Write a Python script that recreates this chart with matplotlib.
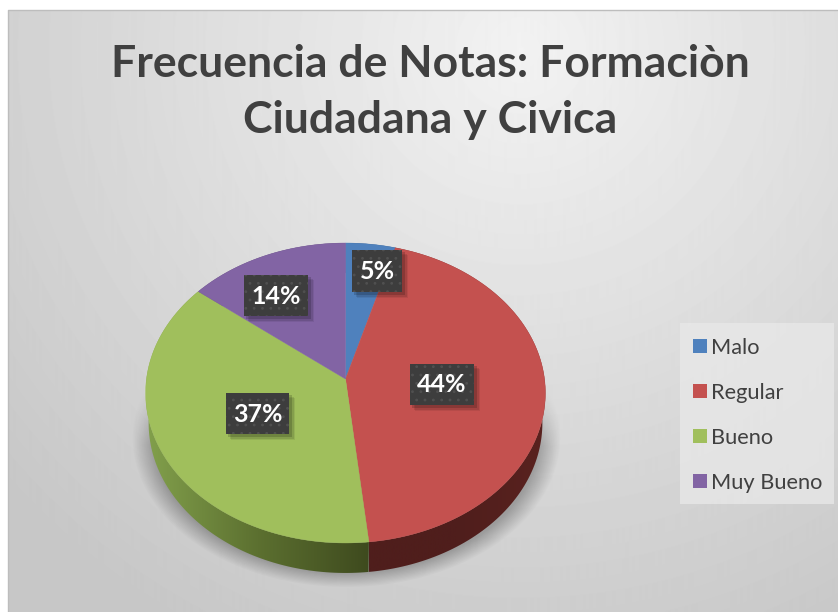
import matplotlib
matplotlib.use("Agg")
import matplotlib.pyplot as plt
import numpy as np
from matplotlib.colors import LinearSegmentedColormap
from matplotlib.patches import Polygon, Rectangle

plt.rcParams['font.family'] = ['Lato', 'DejaVu Sans']
plt.rcParams['hatch.linewidth'] = 0.8

# Data
categories = ["Malo", "Regular", "Bueno", "Muy Bueno"]
values = [4.4, 43.9, 37.4, 14.3]
value_labels = ["5%", "44%", "37%", "14%"]
title_text = "Frecuencia de Notas: Formaciòn\nCiudadana y Civica"

# Styles
colors = ["#4f81bd", "#c4514f", "#a0bf5c", "#8264a4"]
side_colors = [["#2f4d72", "#2f4d72"], ["#4f1e1c", "#4f1e1c", "#5a221f"],
               ["#82a04c", "#5c7030", "#3e4a1e"], ["#4d3c62", "#4d3c62"]]
label_boxes = [(352, 250, 50, 42), (410, 364, 64, 41), (226, 393, 63, 41), (244, 275, 64, 41)]

W, H = 838, 612
CX, APEX_Y = 345.5, 379.0
PERSP = -0.0933
A = 113.3
D = 199.0
DEPTH = 30.0


# maps an angle (clockwise from the top) on to the tilted pie face
def face(theta, scale=1.0, dy=0.0):
    t = -np.cos(theta)
    w = PERSP * t + 1
    return CX + scale * D * np.sin(theta) / w, (A * t + APEX_Y) / w + dy


fig = plt.figure(figsize=(W / 100, H / 100), dpi=100)
ax = fig.add_axes([0, 0, 1, 1])

# background gradient
xx, yy = np.meshgrid(np.arange(W), np.arange(H))
dist = np.sqrt(((xx - 520) / 640.0) ** 2 + ((yy - 50) / 620.0) ** 2)
bg = np.clip(0.95 - 0.16 * dist, 0.78, 0.95)
ax.imshow(bg, cmap="gray", vmin=0, vmax=1, extent=(0, W, H, 0), aspect="auto", zorder=0)
ax.add_patch(Rectangle((0, 0), 8, H, fc="white", ec="none", zorder=1))
ax.add_patch(Rectangle((0, 0), W, 9.5, fc="white", ec="none", zorder=1))
ax.plot([8, 8, W], [H, 9.5, 9.5], color="#bdbdbd", lw=1, zorder=1)

# soft shadow on the floor
d = np.sqrt(((xx - CX) / 214.0) ** 2 + ((yy - 437) / 150.0) ** 2)
shadow = np.clip((1.0 - d) / 0.10, 0, 1) * np.clip((yy - 385) / 60.0, 0, 1) * 0.26
rgba = np.zeros((H, W, 4))
rgba[..., 3] = shadow
ax.imshow(rgba, extent=(0, W, H, 0), aspect="auto", zorder=2)

# pie sides then faces
ends = np.cumsum(values) / np.sum(values) * 2 * np.pi
starts = np.concatenate([[0], ends[:-1]])
for i in range(len(values)):
    th = np.linspace(starts[i], ends[i], 120)
    tx, ty = face(th)
    bx, by = face(th, 0.985, DEPTH)
    side = Polygon(np.column_stack([np.r_[tx, bx[::-1]], np.r_[ty, by[::-1]]]), fc="none", ec="none", zorder=3)
    ax.add_patch(side)
    cmap = LinearSegmentedColormap.from_list("side%d" % i, side_colors[i])
    grad = np.linspace(0, 1, 256).reshape(1, -1)
    lo, hi = min(bx.min(), tx.min()), max(bx.max(), tx.max())
    im = ax.imshow(grad, cmap=cmap, extent=(lo, hi, by.max() + 2, ty.min() - 2), aspect="auto", zorder=3)
    im.set_clip_path(side)
for i in range(len(values)):
    th = np.linspace(starts[i], ends[i], 120)
    tx, ty = face(th)
    ax.fill(np.r_[CX, tx], np.r_[APEX_Y, ty], color=colors[i], lw=0.3, zorder=4)

# data labels
for (x, y, w, h), lab in zip(label_boxes, value_labels):
    for k, a in zip([6, 4.5, 3], [0.07, 0.10, 0.16]):
        ax.add_patch(Rectangle((x + k - 1, y + k - 1), w + 1, h + 1, fc="black", ec="none", alpha=a, zorder=5))
    ax.add_patch(Rectangle((x, y), w, h, fc="#3d3d3d", ec="#505050", hatch="..", lw=0, zorder=6))
    ax.text(x + w / 2, y + h / 2 + 0.5, lab, color="white", fontsize=18, fontweight="bold",
            ha="center", va="center", zorder=7)

ax.text(430, 92, title_text, color="#404040", fontsize=32, fontweight="bold", ha="center", va="center",
        linespacing=1.5, zorder=7)

# legend
ax.add_patch(Rectangle((680, 323), 154, 181, fc="#e9e9e9", ec="none", alpha=0.75, zorder=7))
handles = [Rectangle((0, 0), 1, 1, fc=c, ec="none") for c in colors]
leg = ax.legend(handles, categories, loc="upper left", bbox_to_anchor=(680 / W, 1 - 325 / H), borderaxespad=0,
                fontsize=15.7, labelcolor="#404040", frameon=False, handlelength=0.64, handleheight=0.64,
                handletextpad=0.22, labelspacing=1.15, borderpad=0.58)
leg.set_zorder(8)

ax.set_xlim(0, W)
ax.set_ylim(H, 0)
ax.axis("off")
fig.savefig("out.png", dpi=100)
